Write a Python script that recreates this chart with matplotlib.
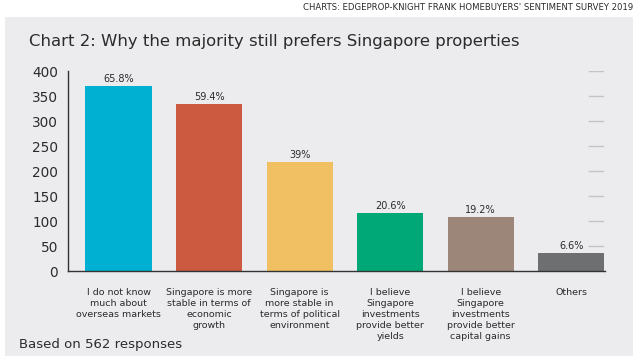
import numpy as np
import matplotlib
matplotlib.use("Agg")
import matplotlib.pyplot as plt
from matplotlib.patches import Rectangle

categories = [
    "I do not know\nmuch about\noverseas markets",
    "Singapore is more\nstable in terms of\neconomic\ngrowth",
    "Singapore is\nmore stable in\nterms of political\nenvironment",
    "I believe\nSingapore\ninvestments\nprovide better\nyields",
    "I believe\nSingapore\ninvestments\nprovide better\ncapital gains",
    "Others",
]
responses = [370, 334, 219, 116, 108, 37]
pct_labels = ["65.8%", "59.4%", "39%", "20.6%", "19.2%", "6.6%"]
colors = ["#00b0d2", "#cc5a40", "#f0c062", "#00a877", "#9c8679", "#6e6f71"]
yticks = [0, 50, 100, 150, 200, 250, 300, 350, 400]

BG = "#ececee"
TXT = "#2b2b2b"

fig = plt.figure(figsize=(6.4, 3.63), dpi=100)
fig.patch.set_facecolor("white")
fig.patches.append(Rectangle((0.008, 0.019), 0.981, 0.934, transform=fig.transFigure,
                             facecolor=BG, edgecolor="none", zorder=-5))

ax = fig.add_axes([0.106, 0.2534, 0.839, 0.551])
ax.set_zorder(2)
ax.set_facecolor("none")
x = np.arange(len(categories))
ax.bar(x, responses, width=0.73, color=colors, zorder=2)
for xi, v, lab in zip(x, responses, pct_labels):
    ax.text(xi, v + 4, lab, ha="center", va="bottom", fontsize=7, color=TXT)

# faint right-hand tick dashes
for t in yticks[1:]:
    ax.plot([5.19, 5.35], [t, t], color="#c4c4c8", lw=1, zorder=1)

ax.set_xlim(-0.56, 5.37)
ax.set_ylim(0, 400)
ax.set_yticks(yticks)
ax.tick_params(axis="y", length=0, pad=7, labelsize=9.8, labelcolor=TXT)
ax.set_xticks(x)
ax.set_xticklabels(categories, fontsize=6.8, color=TXT, linespacing=1.3, va="top")
ax.tick_params(axis="x", length=0, pad=12)
for s in ["top", "right"]:
    ax.spines[s].set_visible(False)
for s in ["left", "bottom"]:
    ax.spines[s].set_color("#333333")
    ax.spines[s].set_linewidth(1)

fig.text(0.045, 0.885, "Chart 2: Why the majority still prefers Singapore properties",
         fontsize=11.85, color=TXT, va="center", ha="left")
fig.text(0.99, 0.978, "CHARTS: EDGEPROP-KNIGHT FRANK HOMEBUYERS' SENTIMENT SURVEY 2019",
         fontsize=6.1, color=TXT, va="center", ha="right")
fig.text(0.03, 0.05, "Based on 562 responses", fontsize=9.5, color=TXT, va="center", ha="left")

fig.savefig("out.png", dpi=100, facecolor="white")
